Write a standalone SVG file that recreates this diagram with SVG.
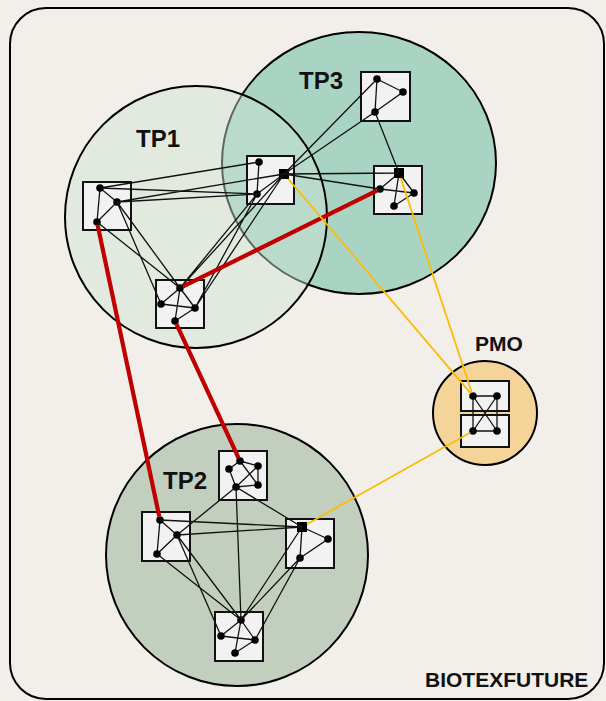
<svg xmlns="http://www.w3.org/2000/svg" width="606" height="701" viewBox="0 0 606 701">
<style>
.lbl{font-family:"Liberation Sans",Arial,sans-serif;font-weight:bold;fill:#111}
.cl{stroke:#000;stroke-width:2}
.box{fill:#f2f2f2;stroke:#111;stroke-width:2}
.e{stroke:#111;stroke-width:1.3;fill:none}
.red{stroke:#c00000;stroke-width:4.2;fill:none}
.yel{stroke:#fbbc05;stroke-width:1.8;fill:none}
.d{fill:#000}
</style>
<rect x="0" y="0" width="606" height="701" fill="#f2efea"/>
<rect x="10" y="8" width="594" height="691" rx="36" fill="#f2efea" stroke="#000" stroke-width="2"/>
<g id="clusters">
<g id="tp3"><ellipse cx="359" cy="163" rx="137" ry="131" fill="#a9d3c3" class="cl"/><text class="lbl" x="299" y="89" font-size="24">TP3</text></g>
<g id="tp1"><circle cx="196" cy="217" r="131" fill="#cfe4d5" fill-opacity="0.45" class="cl"/><text class="lbl" x="136" y="147" font-size="24">TP1</text></g>
<g id="tp2"><circle cx="237" cy="555" r="131" fill="#c3cfbe" class="cl"/><text class="lbl" x="163" y="489" font-size="24">TP2</text></g>
<g id="pmo"><circle cx="485" cy="413" r="52" fill="#f5d49a" class="cl"/><text class="lbl" x="475" y="351" font-size="21">PMO</text></g>
</g>
<g id="nodes">
<g id="nA"><rect class="box" x="83" y="182" width="48" height="48"/>
<path class="e" d="M100 188L117 202L97 222Z"/>
<circle class="d" cx="100" cy="188" r="3.8"/><circle class="d" cx="117" cy="202" r="3.8"/><circle class="d" cx="97" cy="222" r="3.8"/></g>
<g id="nB"><rect class="box" x="156" y="280" width="48" height="48"/>
<path class="e" d="M180 288L161 304M180 288L195 308M180 288L175 321M161 304L195 308M195 308L175 321"/>
<circle class="d" cx="180" cy="288" r="3.8"/><circle class="d" cx="161" cy="304" r="3.8"/><circle class="d" cx="195" cy="308" r="3.8"/><circle class="d" cx="175" cy="321" r="3.8"/></g>
<g id="nC"><rect class="box" x="247" y="156" width="47" height="48"/>
<path class="e" d="M259 162L257 194L284 174"/>
<circle class="d" cx="259" cy="162" r="3.8"/><circle class="d" cx="257" cy="194" r="3.8"/><rect class="d" x="279" y="169" width="10" height="10"/></g>
<g id="nD"><rect class="box" x="361" y="72" width="49" height="49"/>
<path class="e" d="M377 79L403 92L375 112Z"/>
<circle class="d" cx="377" cy="79" r="3.8"/><circle class="d" cx="403" cy="92" r="3.8"/><circle class="d" cx="375" cy="112" r="3.8"/></g>
<g id="nE"><rect class="box" x="374" y="166" width="48" height="48"/>
<path class="e" d="M399 173L380 189M399 173L414 193M399 173L394 206M380 189L414 193L394 206"/>
<circle class="d" cx="380" cy="189" r="3.8"/><circle class="d" cx="414" cy="193" r="3.8"/><circle class="d" cx="394" cy="206" r="3.8"/><rect class="d" x="394" y="168" width="10" height="10"/></g>
<g id="nF"><rect class="box" x="219" y="451" width="48" height="49"/>
<path class="e" d="M240 461L229 469L236 487L258 485L258 466L240 461M240 461L258 485M236 487L258 466"/>
<circle class="d" cx="240" cy="461" r="3.8"/><circle class="d" cx="229" cy="469" r="3.8"/><circle class="d" cx="258" cy="466" r="3.8"/><circle class="d" cx="258" cy="485" r="3.8"/><circle class="d" cx="236" cy="487" r="3.8"/></g>
<g id="nG"><rect class="box" x="142" y="512" width="48" height="49"/>
<path class="e" d="M160 520L177 535L157 554Z"/>
<circle class="d" cx="160" cy="520" r="3.8"/><circle class="d" cx="177" cy="535" r="3.8"/><circle class="d" cx="157" cy="554" r="3.8"/></g>
<g id="nH"><rect class="box" x="286" y="519" width="48" height="49"/>
<path class="e" d="M302 527L328 539L300 558Z"/>
<circle class="d" cx="328" cy="539" r="3.8"/><circle class="d" cx="300" cy="558" r="3.8"/><rect class="d" x="297" y="522" width="10" height="10"/></g>
<g id="nI"><rect class="box" x="215" y="612" width="48" height="49"/>
<path class="e" d="M241 620L221 636M241 620L255 640M241 620L235 653M221 636L255 640M255 640L235 653"/>
<circle class="d" cx="241" cy="620" r="3.8"/><circle class="d" cx="221" cy="636" r="3.8"/><circle class="d" cx="255" cy="640" r="3.8"/><circle class="d" cx="235" cy="653" r="3.8"/></g>
<g id="nP"><rect class="box" x="461" y="381" width="48" height="30"/><rect class="box" x="461" y="415" width="48" height="32"/>
<path class="e" d="M473 396H497V431H473ZM473 396L497 431M497 396L473 431"/>
<circle class="d" cx="473" cy="396" r="3.8"/><circle class="d" cx="497" cy="396" r="3.8"/><circle class="d" cx="473" cy="431" r="3.8"/><circle class="d" cx="497" cy="431" r="3.8"/></g>
</g>
<g id="connectors">
<path class="e" d="M100 188L259 162M100 188L257 194M117 202L284 174M117 202L257 194
M117 202L180 288M117 202L161 304M97 222L180 288
M257 194L180 288M257 194L195 308M284 174L195 308M284 174L180 288
M284 174L377 79M284 174L375 112M284 174L399 173M284 174L380 189M375 112L399 173
M236 487L177 535M236 487L302 527M236 487L241 620
M160 520L302 527M177 535L302 527
M177 535L241 620M177 535L221 636M157 554L241 620
M302 527L241 620M300 558L241 620M300 558L255 640"/>
<path class="red" d="M97.7 225.4L159.3 516.6M176.5 324.2L238.5 457.8M183.1 286.4L376.9 190.6"/>
<path class="yel" d="M288.3 179L470.7 393.3M400.7 178L471.9 392.7M307 524.2L470 432.7"/>
</g>
<text class="lbl" x="425" y="687" font-size="21">BIOTEXFUTURE</text>
</svg>
